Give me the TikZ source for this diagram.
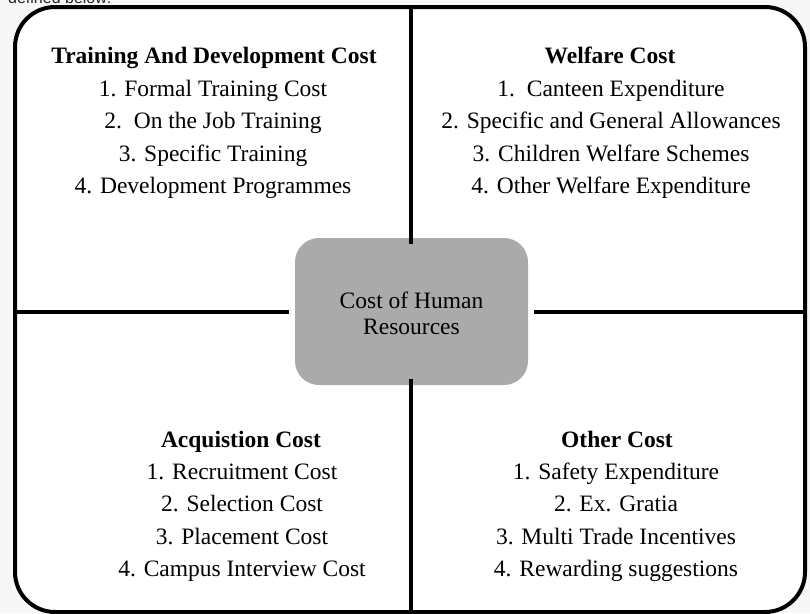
\documentclass[tikz,border=0pt]{standalone}
\usepackage{fontspec}
\setmainfont{Liberation Serif}
\newfontfamily\arialfont{Liberation Sans}
\begin{document}
\begin{tikzpicture}[x=1pt,y=-1pt,
  divider/.style={line width=4.5pt,black},
  frame/.style={line width=4pt,black,rounded corners=40pt},
  hubbox/.style={fill=hubgray,rounded corners=24pt,minimum width=233pt,minimum height=147pt,inner sep=0pt,align=center,font=\fontsize{23.5}{26}\selectfont},
  title/.style={font=\fontsize{23.5}{26}\selectfont\bfseries,anchor=base,inner sep=0pt},
  item/.style={font=\fontsize{23.5}{26}\selectfont,anchor=base,inner sep=0pt}]
\definecolor{hubgray}{HTML}{AAAAAA}
\useasboundingbox (0,0) rectangle (810,613);
\fill[black!3] (0,0) rectangle (810,613);
\begin{scope}
\clip (0,0) rectangle (810,613);
\node[anchor=base west,inner sep=0pt,font=\arialfont\fontsize{16}{18}\selectfont,text=black!85] (intro) at (8,4) {defined below:};
\filldraw[frame,fill=white] (15,7) rectangle (805,612);
\end{scope}
\node[hubbox] (hub) at (411.5,311.5) {};
\node[item] (hubA) at (411.5,308) {Cost of Human};
\node[item] (hubB) at (411.5,334) {Resources};
\coordinate (topend) at (411,7);
\coordinate (botend) at (411,612);
\coordinate (leftend) at (15,312);
\coordinate (rightend) at (805,312);
\draw[divider] (topend) -- ([yshift=-6pt]hub.north -| topend);
\draw[divider] (botend) -- ([yshift=6pt]hub.south -| botend);
\draw[divider] (leftend) -- ([xshift=-6pt]hub.west |- leftend);
\draw[divider] (rightend) -- ([xshift=6pt]hub.east |- rightend);
% top left
\node[title] (tl0) at (214,63) {Training And Development Cost};
\node[item] (tl1) at (213,96) {1. Formal Training Cost};
\node[item] (tl2) at (213,128.5) {2.\ \ On the Job Training};
\node[item] (tl3) at (213,161) {3. Specific Training};
\node[item] (tl4) at (213,193.5) {4. Development Programmes};
% top right
\node[title] (tr0) at (610,63) {Welfare Cost};
\node[item] (tr1) at (611,96) {1.\ \ Canteen Expenditure};
\node[item] (tr2) at (611,128.5) {2. Specific and General Allowances};
\node[item] (tr3) at (611,161) {3. Children Welfare Schemes};
\node[item] (tr4) at (611,193.5) {4. Other Welfare Expenditure};
% bottom left
\node[title] (bl0) at (241,447) {Acquistion Cost};
\node[item] (bl1) at (242,479.5) {1. Recruitment Cost};
\node[item] (bl2) at (242,511.5) {2. Selection Cost};
\node[item] (bl3) at (242,544) {3. Placement Cost};
\node[item] (bl4) at (242,576) {4. Campus Interview Cost};
% bottom right
\node[title] (br0) at (617,447) {Other Cost};
\node[item] (br1) at (616,479.5) {1. Safety Expenditure};
\node[item] (br2) at (616,511.5) {2. Ex. Gratia};
\node[item] (br3) at (616,544) {3. Multi Trade Incentives};
\node[item] (br4) at (616,576) {4. Rewarding suggestions};
\end{tikzpicture}
\end{document}
